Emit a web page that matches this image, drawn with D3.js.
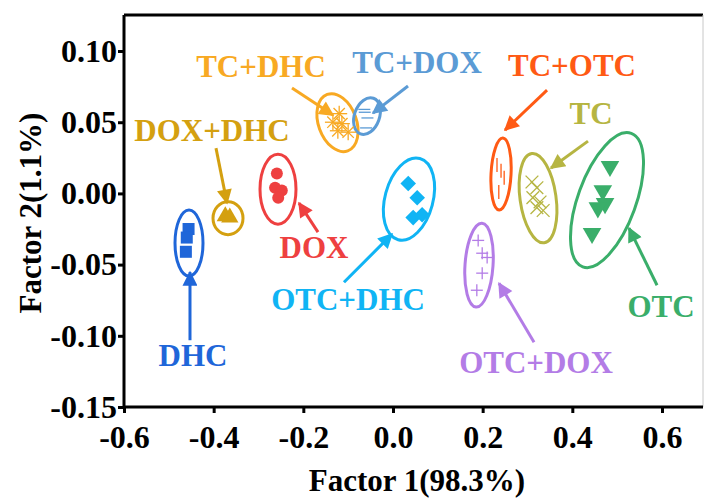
<!DOCTYPE html>
<html>
<head>
<meta charset="utf-8">
<script src="https://cdn.jsdelivr.net/npm/d3@7"></script>
<style>
  html, body { margin: 0; padding: 0; background: #fff; }
  svg { display: block; }
  text { font-family: "Liberation Serif", "Times New Roman", serif; font-weight: bold; }
</style>
</head>
<body>
<svg id="chart" width="705" height="500"></svg>
<script>
// Score plot of the first two factors: groups of samples with their confidence ellipses.
const groups = ["DHC", "DOX+DHC", "DOX", "TC+DHC", "TC+DOX", "OTC+DHC", "TC+OTC", "TC", "OTC", "OTC+DOX"];

// Factor 1 / Factor 2 scores per group
const dhcX = [-0.456, -0.460, -0.462];
const dhcY = [-0.025, -0.031, -0.041];
const doxDhcX = [-0.374, -0.364];
const doxDhcY = [-0.016, -0.017];
const doxX = [-0.259, -0.263, -0.248, -0.256];
const doxY = [0.014, 0.004, 0.002, -0.003];
const tcDhcX = [-0.120, -0.134, -0.114, -0.100, -0.123];
const tcDhcY = [0.056, 0.050, 0.049, 0.043, 0.044];
const tcDoxX = [-0.064, -0.063, -0.057, -0.060];
const tcDoxY = [0.059, 0.057, 0.053, 0.046];
const otcDhcX = [0.034, 0.054, 0.045, 0.065];
const otcDhcY = [0.007, -0.003, -0.017, -0.015];
const tcOtcX = [0.232, 0.241, 0.248, 0.236];
const tcOtcY = [0.020, 0.016, 0.011, 0.001];
const tcX = [0.310, 0.321, 0.312, 0.328, 0.321, 0.335];
const tcY = [0.008, 0.004, -0.003, -0.006, -0.010, -0.012];
const otcX = [0.484, 0.468, 0.473, 0.457, 0.444];
const otcY = [0.019, 0.002, -0.007, -0.010, -0.028];
const otcDoxX = [0.190, 0.199, 0.210, 0.199, 0.187];
const otcDoxY = [-0.033, -0.042, -0.045, -0.056, -0.068];

const seriesX = [dhcX, doxDhcX, doxX, tcDhcX, tcDoxX, otcDhcX, tcOtcX, tcX, otcX, otcDoxX];
const seriesY = [dhcY, doxDhcY, doxY, tcDhcY, tcDoxY, otcDhcY, tcOtcY, tcY, otcY, otcDoxY];

// Ellipse centres (score units)
const ellipseCX = [-0.455, -0.368, -0.2565, -0.1238, -0.058, 0.0357, 0.241, 0.3235, 0.4774, 0.1919];
const ellipseCY = [-0.0349, -0.0174, 0.003, 0.0497, 0.0543, -0.004, 0.0136, -0.0033, -0.0047, -0.0504];

// Group label anchors and arrow tail -> head (score units)
const labelX = [-0.4461, -0.4037, -0.1762, -0.2944, 0.0536, -0.1003, 0.3993, 0.4417, 0.598, 0.319];
const labelY = [-0.1214, 0.0368, -0.0455, 0.0817, 0.0845, -0.0820, 0.0824, 0.0487, -0.087, -0.1263];
const arrowX1 = [-0.4528, -0.3948, -0.1673, -0.2253, 0.0335, -0.1093, 0.3436, 0.435, 0.589, 0.3146];
const arrowY1 = [-0.1031, 0.0318, -0.0272, 0.074, 0.0754, -0.0624, 0.0726, 0.0367, -0.0645, -0.1045];
const arrowX2 = [-0.4528, -0.3702, -0.2096, -0.1338, -0.0446, -0.0022, 0.2499, 0.3525, 0.5265, 0.2365];
const arrowY2 = [-0.0553, -0.0068, -0.0068, 0.055, 0.0564, -0.0286, 0.0445, 0.0178, -0.0244, -0.0631];

const xTicks = [-0.6, -0.4, -0.2, 0.0, 0.2, 0.4, 0.6];
const yTicks = [-0.15, -0.10, -0.05, 0.00, 0.05, 0.10];

// ---- styling ----
const colors = ["#1f66d9", "#d4a010", "#ee4040", "#f8a923", "#5b9bd5", "#10b4f4", "#ff5a14", "#b6b542", "#3aae6a", "#b37ce6"];
const markers = ["square", "triangle", "circle", "asterisk", "dash", "diamond", "vbar", "cross", "triangleDown", "plus"];
// ellipse semi-axes (px) and tilt (deg)
const ellipseStyle = [
  {rx: 14, ry: 33, rot: 0}, {rx: 15, ry: 16.5, rot: 0}, {rx: 18, ry: 35, rot: 0},
  {rx: 19, ry: 30, rot: -20}, {rx: 12.5, ry: 19, rot: 20}, {rx: 24, ry: 42, rot: 15},
  {rx: 10, ry: 36, rot: 3}, {rx: 18, ry: 45, rot: -8}, {rx: 29, ry: 71, rot: 20},
  {rx: 14, ry: 42, rot: 4}
];

const mLeft = 124, mRight = 703, mTop = 15, mBottom = 407;
const x = d3.scaleLinear().domain([-0.6, 0.6915]).range([mLeft, mRight]);
const y = d3.scaleLinear().domain([-0.15, 0.1253]).range([mBottom, mTop]);

const svg = d3.select("#chart");
const FS = 31;      // labels and titles
const FS_TICK = 32; // tick labels

// markers
function drawMarker(g, type, color) {
  switch (type) {
    case "square":
      g.append("rect").attr("x", -6).attr("y", -6).attr("width", 12).attr("height", 12).attr("fill", color);
      break;
    case "circle":
      g.append("circle").attr("r", 6).attr("fill", color);
      break;
    case "triangle":
      g.append("path").attr("d", d3.symbol(d3.symbolTriangle, 130)()).attr("fill", color);
      break;
    case "triangleDown":
      g.append("path").attr("d", d3.symbol(d3.symbolTriangle, 150)()).attr("transform", "rotate(180)").attr("fill", color);
      break;
    case "diamond":
      g.append("rect").attr("x", -5.5).attr("y", -5.5).attr("width", 11).attr("height", 11)
        .attr("transform", "rotate(45)").attr("fill", color);
      break;
    case "asterisk":
      [0, 45, 90, 135].forEach(a => g.append("line").attr("x1", -8).attr("x2", 8).attr("y1", 0).attr("y2", 0)
        .attr("transform", `rotate(${a})`).attr("stroke", color).attr("stroke-width", 1.3));
      break;
    case "dash":
      g.append("line").attr("x1", -6).attr("x2", 6).attr("stroke", color).attr("stroke-width", 1.3);
      break;
    case "vbar":
      g.append("line").attr("y1", -7).attr("y2", 7).attr("stroke", color).attr("stroke-width", 1.3);
      break;
    case "cross":
      [45, 135].forEach(a => g.append("line").attr("x1", -9).attr("x2", 9)
        .attr("transform", `rotate(${a})`).attr("stroke", color).attr("stroke-width", 1.3));
      break;
    case "plus":
      g.append("line").attr("x1", -6).attr("x2", 6).attr("stroke", color).attr("stroke-width", 1.3);
      g.append("line").attr("y1", -6).attr("y2", 6).attr("stroke", color).attr("stroke-width", 1.3);
      break;
  }
}

// arrowheads per colour
const defs = svg.append("defs");
colors.forEach((c, i) => {
  defs.append("marker").attr("id", "ah" + i)
    .attr("viewBox", "0 0 10 10").attr("refX", 9).attr("refY", 5)
    .attr("markerWidth", 5.5).attr("markerHeight", 5).attr("markerUnits", "strokeWidth")
    .attr("orient", "auto")
    .append("path").attr("d", "M0,0 L10,5 L0,10 Z").attr("fill", c);
});

// frame
svg.append("line").attr("x1", mLeft).attr("x2", mRight).attr("y1", mTop).attr("y2", mTop)
  .attr("stroke", "#000").attr("stroke-width", 3);
svg.append("line").attr("x1", mRight).attr("x2", mRight).attr("y1", mTop).attr("y2", mBottom)
  .attr("stroke", "#c8c8c8").attr("stroke-width", 1);

// axes
const yAxis = svg.append("g").attr("transform", `translate(${mLeft},0)`)
  .call(d3.axisLeft(y).tickValues(yTicks).tickSize(6).tickPadding(1));
const xAxis = svg.append("g").attr("transform", `translate(0,${mBottom})`)
  .call(d3.axisBottom(x).tickValues(xTicks).tickSize(6).tickPadding(12));
[xAxis, yAxis].forEach(a => {
  a.select(".domain").attr("stroke-width", 3).attr("stroke", "#000");
  a.selectAll(".tick line").attr("stroke-width", 3).attr("stroke", "#000");
  a.selectAll(".tick text").attr("font-size", FS_TICK).attr("fill", "#000")
    .attr("font-family", "Liberation Serif").attr("font-weight", "bold");
});
xAxis.select(".domain").attr("d", `M${mLeft},0H${mRight}`);
yAxis.select(".domain").attr("d", `M0,${mBottom}V${mTop}`);
yAxis.selectAll(".tick text").text(d => d3.format(".2f")(d).replace("−", "-"));
xAxis.selectAll(".tick text").text(d => d3.format(".1f")(d).replace("−", "-"));

// axis titles
svg.append("text").attr("x", 417).attr("y", 491).attr("text-anchor", "middle")
  .attr("font-size", FS).text("Factor 1(98.3%)");
svg.append("text").attr("transform", "translate(41,213) rotate(-90)").attr("text-anchor", "middle")
  .attr("font-size", FS).text("Factor 2(1.1%)");

// ellipses
groups.forEach((gname, i) => {
  const e = ellipseStyle[i];
  svg.append("ellipse")
    .attr("transform", `translate(${x(ellipseCX[i])},${y(ellipseCY[i])}) rotate(${e.rot})`)
    .attr("rx", e.rx).attr("ry", e.ry)
    .attr("fill", "none").attr("stroke", colors[i]).attr("stroke-width", 3);
});

// points
groups.forEach((gname, i) => {
  const pts = seriesX[i].map((v, k) => [v, seriesY[i][k]]);
  svg.append("g").selectAll("g").data(pts).join("g")
    .attr("transform", d => `translate(${x(d[0])},${y(d[1])})`)
    .each(function () { drawMarker(d3.select(this), markers[i], colors[i]); });
});

// arrows
groups.forEach((gname, i) => {
  svg.append("line")
    .attr("x1", x(arrowX1[i])).attr("y1", y(arrowY1[i]))
    .attr("x2", x(arrowX2[i])).attr("y2", y(arrowY2[i]))
    .attr("stroke", colors[i]).attr("stroke-width", 3)
    .attr("marker-end", `url(#ah${i})`);
});

// labels
groups.forEach((gname, i) => {
  svg.append("text").attr("x", x(labelX[i])).attr("y", y(labelY[i]))
    .attr("text-anchor", "middle").attr("font-size", FS).attr("fill", colors[i]).text(gname);
});
</script>
</body>
</html>
